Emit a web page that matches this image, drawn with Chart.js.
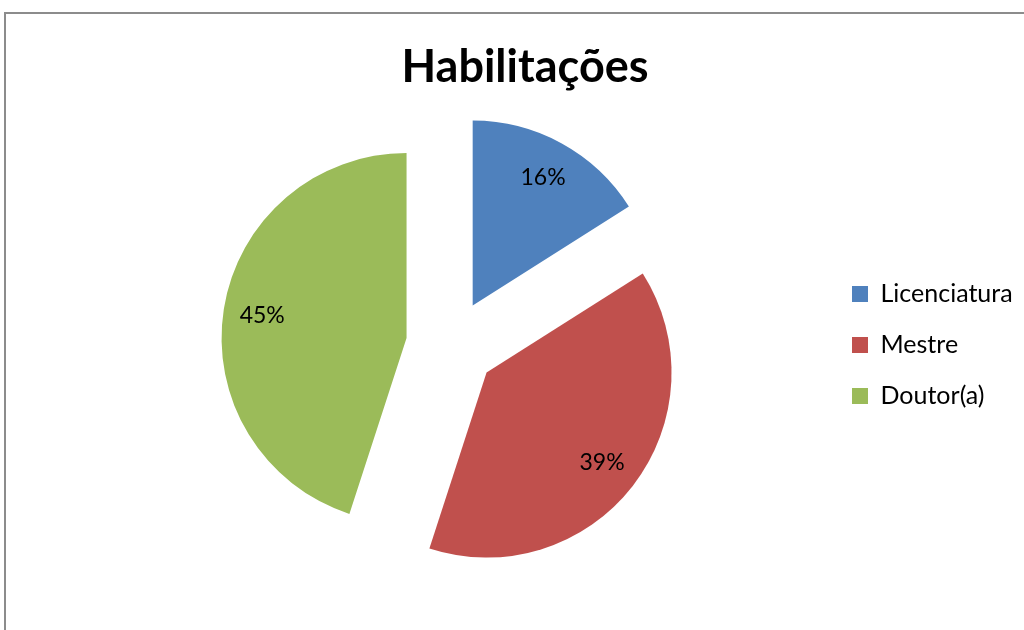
<!DOCTYPE html>
<html>
<head>
<meta charset="utf-8">
<script src="https://cdn.jsdelivr.net/npm/chart.js@4/dist/chart.umd.min.js"></script>
<style>
    html, body { margin: 0; padding: 0; background: #fff; overflow: hidden; width: 1024px; height: 630px; }
    #frame {
        position: absolute; left: 4px; top: 12px;
        border-left: 2px solid #8c8c8c; border-top: 2px solid #8c8c8c;
        width: 1038px; height: 616px;
    }
    #frame canvas { display: block; }
</style>
</head>
<body>
<div id="frame"><canvas id="pieChart" width="1038" height="616"></canvas></div>
<script>
// Data
const categories = ['Licenciatura', 'Mestre', 'Doutor(a)'];
const percentages = [16, 39, 45];
const sliceColors = ['#4F81BD', '#C0504D', '#9BBB59'];

const PIE_RADIUS = 185;
const EXPLODE = 45;   // px every slice is pulled out (v4 moves arcs by offset / 4)

// v4 also grows an exploded arc's radius by shift * fix and trims its angle a bit;
// take both back so all slices keep the same size and straight edges
const arcFix = (circ) => 1 - Math.sin(Math.min(Math.PI, circ));
const evenExplode = {
    id: 'evenExplode',
    afterDatasetsUpdate(chart) {
        chart.getDatasetMeta(0).data.forEach(arc => {
            const grow = arc.options.offset / 4 * arcFix(arc.circumference);
            arc.outerRadius = PIE_RADIUS - grow;
            const trim = grow / Math.PI / PIE_RADIUS / 2;
            arc.startAngle -= trim;
            arc.endAngle += trim;
        });
    }
};

// Legend only reserves a narrow strip in the layout; let its text run past it
const legendOverflow = {
    id: 'legendOverflow',
    afterLayout(chart) {
        const lg = chart.legend;
        lg.right = chart.width;
        lg.width = lg.right - lg.left;
    }
};

// Percent labels inside each slice
const sliceLabels = {
    id: 'sliceLabels',
    afterDatasetsDraw(chart) {
        const { ctx } = chart;
        const meta = chart.getDatasetMeta(0);
        ctx.save();
        ctx.font = "23px 'Lato', sans-serif";
        ctx.fillStyle = '#000';
        ctx.textAlign = 'center';
        ctx.textBaseline = 'middle';
        meta.data.forEach((arc, i) => {
            const { x, y, startAngle, endAngle } = arc.getProps(['x', 'y', 'startAngle', 'endAngle']);
            const mid = (startAngle + endAngle) / 2;
            const d = arc.options.offset / 4 + PIE_RADIUS * 0.79;
            ctx.fillText(percentages[i] + '%', x + Math.cos(mid) * d, y + Math.sin(mid) * d);
        });
        ctx.restore();
    }
};

const ctx = document.getElementById('pieChart').getContext('2d');
new Chart(ctx, {
    type: 'pie',
    data: {
        labels: categories,
        datasets: [{
            data: percentages,
            backgroundColor: sliceColors,
            borderWidth: 0,
            offset: EXPLODE * 4
        }]
    },
    options: {
        responsive: false,
        animation: false,
        radius: PIE_RADIUS,
        layout: { padding: { left: 70, right: 70, top: 0, bottom: 34 } },
        plugins: {
            title: {
                display: true,
                text: 'Habilitações',
                color: '#000',
                font: { family: "'Lato', sans-serif", size: 45, weight: 'bold' },
                padding: { top: 26, bottom: 0 }
            },
            legend: {
                position: 'right',
                fullSize: false,
                maxWidth: 148,
                labels: {
                    color: '#000',
                    font: { family: "'Lato', sans-serif", size: 25 },
                    boxWidth: 16,
                    boxHeight: 16,
                    padding: 26
                }
            },
            tooltip: { enabled: false }
        }
    },
    plugins: [evenExplode, legendOverflow, sliceLabels]
});
</script>
</body>
</html>
